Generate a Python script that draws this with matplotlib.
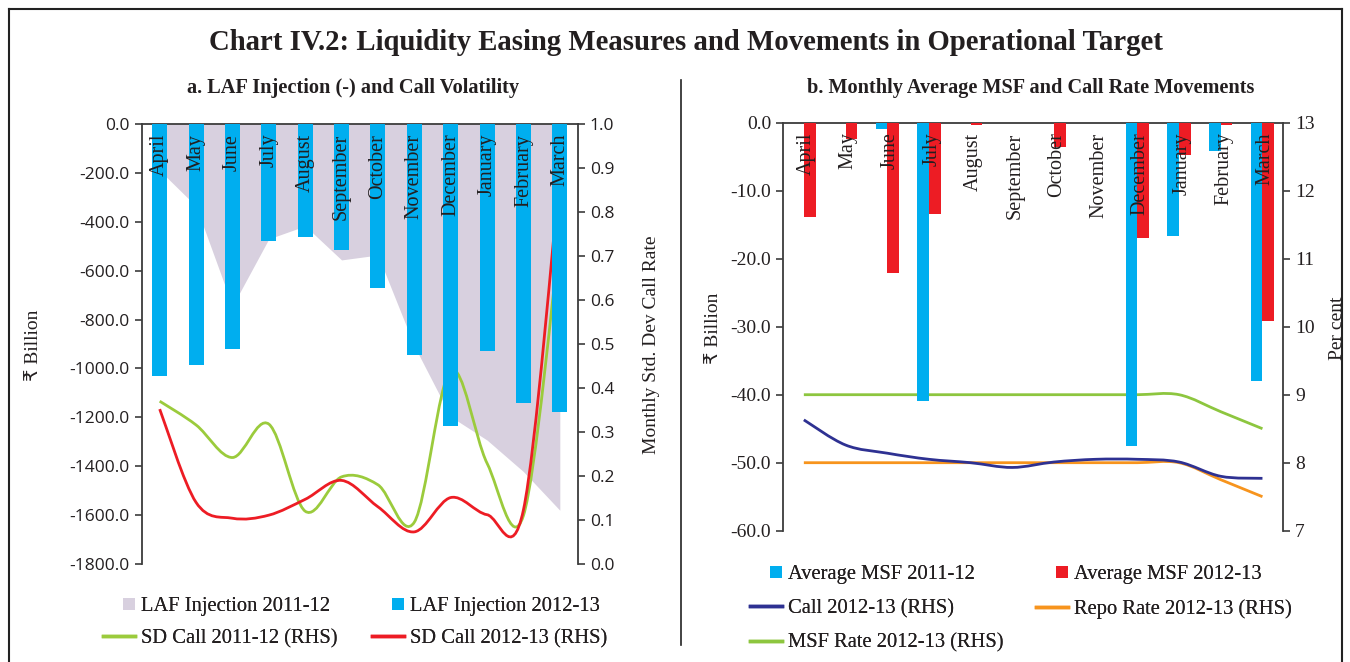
import matplotlib
matplotlib.use("Agg")
import matplotlib.pyplot as plt
import numpy as np
from matplotlib.path import Path
from matplotlib.patches import PathPatch, Patch, Rectangle
from matplotlib.lines import Line2D
from matplotlib.legend_handler import HandlerBase

plt.rcParams['axes.unicode_minus'] = False
SERIF = ['Liberation Serif', 'DejaVu Sans']
SANS = ['Open Sans', 'DejaVu Sans']

# ---------------- data ----------------
months = ['April', 'May', 'June', 'July', 'August', 'September', 'October',
          'November', 'December', 'January', 'February', 'March']

# Panel a
laf_2011 = [-190, -336, -745, -470, -417, -556, -536, -908, -1197, -1293, -1422, -1580]
laf_2012 = [-1030, -987, -920, -480, -463, -514, -670, -945, -1237, -927, -1141, -1177]
sd_call_2011 = [0.370, 0.316, 0.242, 0.318, 0.120, 0.198, 0.180, 0.095, 0.440, 0.229, 0.110, 0.745]
sd_call_2012 = [0.352, 0.140, 0.104, 0.111, 0.147, 0.190, 0.130, 0.073, 0.151, 0.112, 0.123, 0.886]
left_ticks = [0, -200, -400, -600, -800, -1000, -1200, -1400, -1600, -1800]
right_ticks_a = [0.0, 0.1, 0.2, 0.3, 0.4, 0.5, 0.6, 0.7, 0.8, 0.9, 1.0]

# Panel b
msf_2011 = [0, 0, -1.0, -40.9, 0, 0, 0, 0, -47.6, -16.6, -4.1, -38.0]
msf_2012 = [-13.9, -2.45, -22.1, -13.5, -0.4, 0, -3.6, 0, -17.0, -4.75, -0.4, -29.2]
call_2012 = [8.63, 8.26, 8.14, 8.05, 8.00, 7.93, 8.01, 8.05, 8.05, 8.01, 7.80, 7.77]
repo_2012 = [8.0, 8.0, 8.0, 8.0, 8.0, 8.0, 8.0, 8.0, 8.0, 8.0, 7.75, 7.5]
msf_rate_2012 = [9.0, 9.0, 9.0, 9.0, 9.0, 9.0, 9.0, 9.0, 9.0, 9.0, 8.75, 8.5]
left_ticks_b = [0, -10, -20, -30, -40, -50, -60]
right_ticks_b = [7, 8, 9, 10, 11, 12, 13]

# ---------------- style ----------------
CYAN = '#00AEEF'
LAV = '#D8D0DF'
GREEN = '#9BCB3C'
RED = '#ED1C24'
NAVY = '#2E3192'
ORANGE = '#F7941D'
MSFG = '#8DC63F'
AXC = '#3C3C3C'
TXT = '#231F20'

W, H = 1350, 662
fig = plt.figure(figsize=(W / 100, H / 100), dpi=100)


def rect(l, t, r, b):
    return [l / W, 1 - b / H, (r - l) / W, (b - t) / H]


def smooth(ax, x, y, **kw):
    x = list(x); y = list(y); n = len(x)
    verts = [(x[0], y[0])]
    codes = [Path.MOVETO]
    for i in range(n - 1):
        p0 = i - 1 if i > 0 else i
        p3 = i + 2 if i + 2 < n else i + 1
        c1 = (x[i] + (x[i + 1] - x[p0]) / 6, y[i] + (y[i + 1] - y[p0]) / 6)
        c2 = (x[i + 1] - (x[p3] - x[i]) / 6, y[i + 1] - (y[p3] - y[i]) / 6)
        verts += [c1, c2, (x[i + 1], y[i + 1])]
        codes += [Path.CURVE4] * 3
    patch = PathPatch(Path(verts, codes), fill=False, capstyle='butt', **kw)
    ax.add_patch(patch)
    return patch


class SquareHandler(HandlerBase):
    def create_artists(self, legend, orig_handle, xdescent, ydescent,
                       width, height, fontsize, trans):
        s = fontsize * 0.57
        r = Rectangle((width - s - xdescent, (height - s) / 2 - ydescent), s, s,
                      facecolor=orig_handle.get_facecolor(), edgecolor='none',
                      transform=trans)
        return [r]


def style_axes(ax, axr, axb):
    for side in ['bottom', 'right']:
        ax.spines[side].set_visible(False)
    for side in ['bottom', 'left', 'top']:
        axr.spines[side].set_visible(False)
    for sp in [ax.spines['left'], ax.spines['top'], axr.spines['right']]:
        sp.set_color(AXC)
        sp.set_linewidth(1.3)
    ax.xaxis.tick_top()
    ax.set_xticks(np.arange(0.5, 11.5, 1.0))
    ax.tick_params(axis='x', direction='in', length=4, width=1.2, color=AXC,
                   labeltop=False, labelbottom=False)
    ax.tick_params(axis='y', direction='out', length=5, width=1.2, color=AXC,
                   labelcolor=TXT)
    axr.tick_params(axis='y', direction='out', length=5, width=1.2, color=AXC,
                    labelcolor=TXT)
    axr.set_xticks([])
    axb.axis('off')


x = np.arange(len(months))

# ================= Panel a =================
pos_a = rect(141.5, 124, 578, 564)
ax = fig.add_axes(pos_a)
axr = ax.twinx()
axb = fig.add_axes(pos_a, sharex=ax, sharey=ax)
axb.patch.set_visible(False)

ax.fill_between(x, laf_2011, 0, color=LAV, linewidth=0, zorder=1)
smooth(axr, x, sd_call_2011, edgecolor=GREEN, linewidth=2.0)
smooth(axr, x, sd_call_2012, edgecolor=RED, linewidth=2.0)
axb.bar(x, laf_2012, width=0.41, color=CYAN, linewidth=0)
for i, m in enumerate(months):
    axb.annotate(m, xy=(x[i], 0), xytext=(0, -7), textcoords='offset points',
                 rotation=90, ha='center', va='top', fontsize=14.5,
                 family=SERIF, color=TXT)

ax.set_xlim(-0.5, 11.5)
ax.set_ylim(-1800, 0)
ax.set_yticks(left_ticks)
ax.set_yticklabels([f'{v:.1f}' for v in left_ticks], family=SANS, fontsize=12.5)
axr.set_ylim(0, 1.0)
axr.set_yticks(right_ticks_a)
axr.set_yticklabels([f'{v:.1f}' for v in right_ticks_a], family=SANS, fontsize=12.5)
style_axes(ax, axr, axb)

# ================= Panel b =================
pos_b = rect(783, 122.7, 1283.3, 530.7)
bx = fig.add_axes(pos_b)
bxr = bx.twinx()
bxb = fig.add_axes(pos_b, sharex=bx, sharey=bx)
bxb.patch.set_visible(False)

smooth(bxr, x, repo_2012, edgecolor=ORANGE, linewidth=2.0)
smooth(bxr, x, call_2012, edgecolor=NAVY, linewidth=2.0)
smooth(bxr, x, msf_rate_2012, edgecolor=MSFG, linewidth=2.0)
bw = 0.28
bxb.bar(x - bw / 2, msf_2011, width=bw, color=CYAN, linewidth=0)
bxb.bar(x + bw / 2, msf_2012, width=bw, color=RED, linewidth=0)
for i, m in enumerate(months):
    bxb.annotate(m, xy=(x[i], 0), xytext=(2, -7), textcoords='offset points',
                 rotation=90, ha='center', va='top', fontsize=14.5,
                 family=SERIF, color=TXT)

bx.set_xlim(-0.5, 11.5)
bx.set_ylim(-60, 0)
bx.set_yticks(left_ticks_b)
bx.set_yticklabels([f'{v:.1f}' for v in left_ticks_b], family=SERIF, fontsize=14)
bxr.set_ylim(7, 13)
bxr.set_yticks(right_ticks_b)
bxr.set_yticklabels([str(v) for v in right_ticks_b], family=SERIF, fontsize=14)
style_axes(bx, bxr, bxb)

# ================= Texts =================
fig.text(686 / W, 1 - 42 / H, 'Chart IV.2: Liquidity Easing Measures and Movements in Operational Target',
         ha='center', va='center', fontsize=20.7, fontweight='bold', family=SERIF, color=TXT)
fig.text(353 / W, 1 - 88 / H, 'a. LAF Injection (-) and Call Volatility',
         ha='center', va='center', fontsize=14.7, fontweight='bold', family=SERIF, color=TXT)
fig.text(1031 / W, 1 - 88 / H, 'b. Monthly Average MSF and Call Rate Movements',
         ha='center', va='center', fontsize=14.6, fontweight='bold', family=SERIF, color=TXT)

fig.text(33 / W, 1 - 345 / H, '₹ Billion', rotation=90, ha='center', va='center',
         fontsize=14, family=SERIF, color=TXT)
fig.text(652 / W, 1 - 345 / H, 'Monthly Std. Dev Call Rate', rotation=90, ha='center',
         va='center', fontsize=14, family=SERIF, color=TXT)
fig.text(714 / W, 1 - 328 / H, '₹ Billion', rotation=90, ha='center', va='center',
         fontsize=14, family=SERIF, color=TXT)
fig.text(1338 / W, 1 - 328 / H, 'Per cent', rotation=90, ha='center', va='center',
         fontsize=14, family=SERIF, color=TXT)

# ================= Legends =================
hm = {Patch: SquareHandler()}


def add_legend(handles, labels, px, py, size, spacing):
    lg = fig.legend(handles, labels, bbox_to_anchor=(px / W, 1 - py / H),
                    frameon=False, loc='upper left', borderpad=0, borderaxespad=0,
                    handlelength=1.55, handletextpad=0.32, labelspacing=spacing,
                    prop={'family': SERIF, 'size': size}, handler_map=hm,
                    labelcolor=TXT)
    fig.add_artist(lg)
    return lg


add_legend([Patch(facecolor=LAV), Line2D([], [], color=GREEN, lw=2.5)],
           ['LAF Injection 2011-12', 'SD Call 2011-12 (RHS)'], 103, 597, 14.8, 0.6)
add_legend([Patch(facecolor=CYAN), Line2D([], [], color=RED, lw=2.5)],
           ['LAF Injection 2012-13', 'SD Call 2012-13 (RHS)'], 372, 597, 14.8, 0.6)
add_legend([Patch(facecolor=CYAN), Line2D([], [], color=NAVY, lw=2.5),
            Line2D([], [], color=MSFG, lw=2.5)],
           ['Average MSF 2011-12', 'Call 2012-13 (RHS)', 'MSF Rate 2012-13 (RHS)'],
           750, 565, 14.8, 0.72)
add_legend([Patch(facecolor=RED), Line2D([], [], color=ORANGE, lw=2.5)],
           ['Average MSF 2012-13', 'Repo Rate 2012-13 (RHS)'], 1036, 565, 14.8, 0.72)

# ================= Frame & divider =================
fig.add_artist(Line2D([9 / W, 9 / W], [0, 1 - 9 / H], color='#222222', lw=1.5))
fig.add_artist(Line2D([9 / W, 1342 / W], [1 - 9 / H, 1 - 9 / H], color='#222222', lw=1.5))
fig.add_artist(Line2D([1342 / W, 1342 / W], [0, 1 - 9 / H], color='#222222', lw=1.5))
fig.add_artist(Line2D([681 / W, 681 / W], [1 - 80 / H, 1 - 645 / H], color='#222222', lw=1.2))

fig.savefig('out.png', dpi=100)
